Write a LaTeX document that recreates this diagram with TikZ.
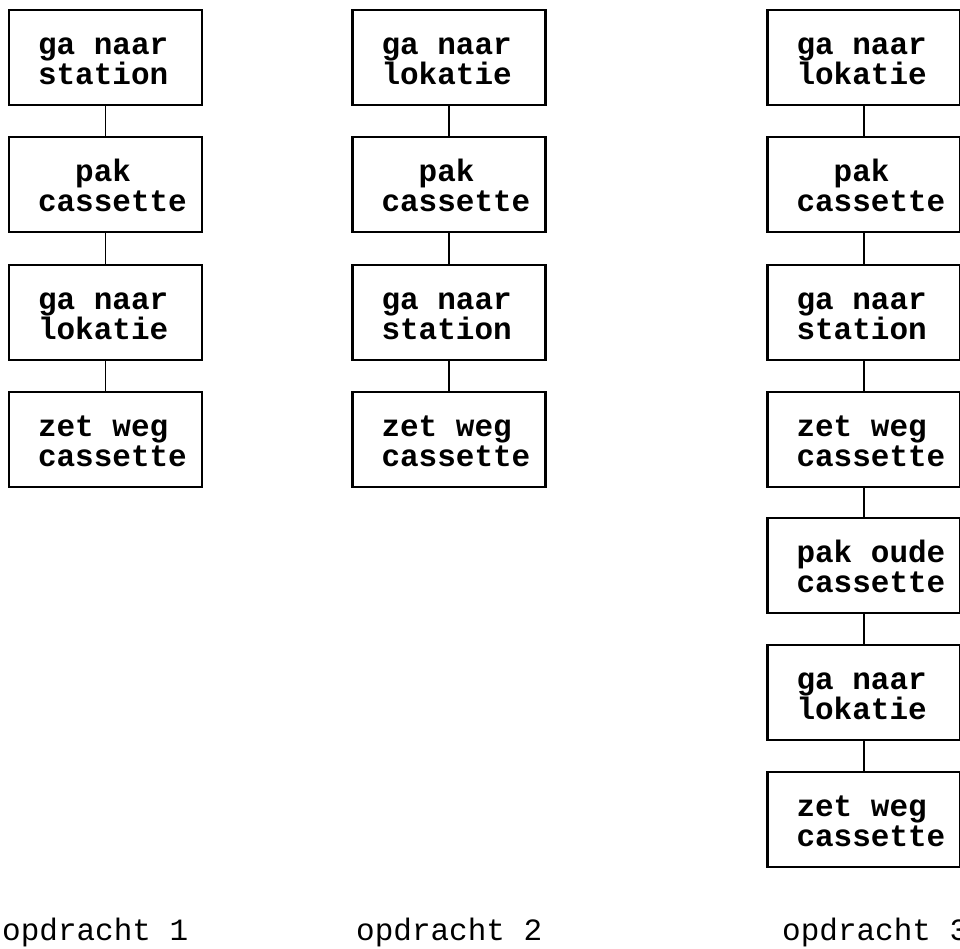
\documentclass[tikz,border=0pt]{standalone}
\usepackage{fontspec}
\setmonofont{Liberation Mono}
\tikzset{
  every picture/.style={
    x=1pt, y=-1pt
  },
  stap/.style={
    draw, line width=2.2pt, rectangle,
    minimum width=193pt, minimum height=95pt,
    text width=135pt, inner xsep=29pt, inner ysep=0pt,
    align=flush left,
    font=\ttfamily\bfseries\fontsize{31}{30}\selectfont,
    execute at begin node=\rule{0pt}{24pt}
  },
  opdr/.style={
    anchor=base west, inner sep=0pt,
    font=\ttfamily\fontsize{31}{31}\selectfont
  }
}

\begin{document}
\begin{tikzpicture}[verbind/.style={line width=1.8pt}]
  \useasboundingbox (0,0) rectangle (960,948);

  % opdracht 1
  \node [stap] (a1) at (105.5,57.5)  {ga naar\\station};
  \node [stap] (a2) at (105.5,184.5) {\ \ pak\\cassette};
  \node [stap] (a3) at (105.5,312.5) {ga naar\\lokatie};
  \node [stap] (a4) at (105.5,439.5) {zet weg\\cassette};
  \draw [verbind] (a1) -- (a2) -- (a3) -- (a4);

  % opdracht 2
  \node [stap] (b1) at (449,57.5)  {ga naar\\lokatie};
  \node [stap] (b2) at (449,184.5) {\ \ pak\\cassette};
  \node [stap] (b3) at (449,312.5) {ga naar\\station};
  \node [stap] (b4) at (449,439.5) {zet weg\\cassette};
  \draw [verbind] (b1) -- (b2) -- (b3) -- (b4);

  % opdracht 3
  \node [stap] (c1) at (864,57.5)  {ga naar\\lokatie};
  \node [stap] (c2) at (864,184.5) {\ \ pak\\cassette};
  \node [stap] (c3) at (864,312.5) {ga naar\\station};
  \node [stap] (c4) at (864,439.5) {zet weg\\cassette};
  \node [stap] (c5) at (864,565.5) {pak~oude\\cassette};
  \node [stap] (c6) at (864,692.5) {ga naar\\lokatie};
  \node [stap] (c7) at (864,819.5) {zet weg\\cassette};
  \draw [verbind] (c1) -- (c2) -- (c3) -- (c4) -- (c5) -- (c6) -- (c7);

  % namen onder de kolommen
  \node [opdr] (n1) at (2,940)   {opdracht 1};
  \node [opdr] (n2) at (356,940) {opdracht 2};
  \node [opdr] (n3) at (782,940) {opdracht 3};
\end{tikzpicture}
\end{document}
